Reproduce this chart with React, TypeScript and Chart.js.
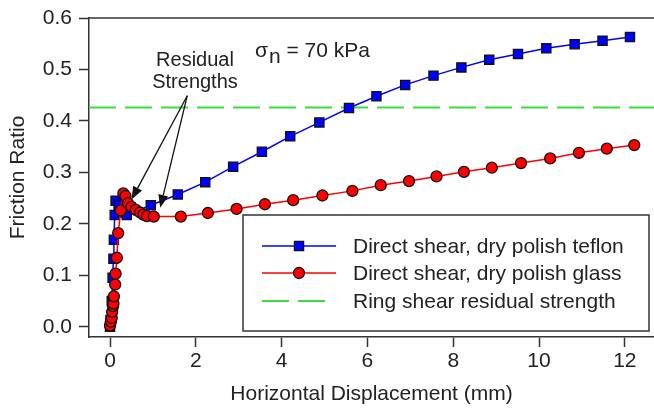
import React, { useEffect, useRef } from "react";
import { Chart, registerables } from "chart.js";

Chart.register(...registerables);

// ---- data ----
const teflonX = [0.0, 0.01, 0.04, 0.06, 0.08, 0.09, 0.11, 0.13, 0.2, 0.3, 0.39, 0.95, 1.58, 2.22, 2.87, 3.54, 4.2, 4.88, 5.57, 6.21, 6.88, 7.54, 8.19, 8.84, 9.51, 10.17, 10.83, 11.48, 12.12];
const teflonY = [0.0, 0.013, 0.05, 0.095, 0.132, 0.169, 0.217, 0.245, 0.237, 0.222, 0.217, 0.236, 0.257, 0.281, 0.311, 0.34, 0.37, 0.397, 0.425, 0.448, 0.47, 0.488, 0.504, 0.519, 0.53, 0.541, 0.549, 0.556, 0.563];

const glassX = [0.0, 0.02, 0.04, 0.05, 0.07, 0.08, 0.09, 0.12, 0.13, 0.16, 0.19, 0.25, 0.31, 0.36, 0.42, 0.5, 0.6, 0.7, 0.78, 0.86, 1.02, 1.65, 2.28, 2.95, 3.61, 4.27, 4.95, 5.65, 6.31, 6.97, 7.61, 8.25, 8.9, 9.58, 10.26, 10.93, 11.58, 12.22];
const glassY = [0.002, 0.01, 0.017, 0.029, 0.04, 0.045, 0.059, 0.082, 0.103, 0.134, 0.182, 0.226, 0.259, 0.254, 0.24, 0.233, 0.227, 0.222, 0.218, 0.215, 0.214, 0.214, 0.221, 0.229, 0.238, 0.246, 0.255, 0.264, 0.275, 0.283, 0.292, 0.301, 0.309, 0.318, 0.327, 0.338, 0.346, 0.353];

const ringShearResidual = 0.426;

const xTicks = [0, 2, 4, 6, 8, 10, 12];
const yTicks = [0, 0.1, 0.2, 0.3, 0.4, 0.5, 0.6];
const xMin = -0.49;
const xMax = 12.68;
const yMin = -0.02;
const yMax = 0.6;

const labels = [
  "Direct shear, dry polish teflon",
  "Direct shear, dry polish glass",
  "Ring shear residual strength",
];

// annotation anchors (data coords)
const arrowStart = { x: 1.8, y: 0.449 };
const arrowTips = [
  { x: 0.5, y: 0.247 },
  { x: 1.17, y: 0.231 },
];

const FONT = "'Liberation Sans', Arial, Helvetica, sans-serif";
const TEXT = "#222";
const AXIS = "#333";
const BLUE = "#0000ff";
const RED = "#ff0000";
const GREEN = "#3ddc3d";

const annotPlugin = {
  id: "annot",
  afterDraw(chart: any) {
    const ctx = chart.ctx as CanvasRenderingContext2D;
    const xs = chart.scales.x;
    const ys = chart.scales.y;
    const ca = chart.chartArea;
    ctx.save();
    // top frame
    ctx.strokeStyle = AXIS;
    ctx.lineWidth = 1.5;
    ctx.beginPath();
    ctx.moveTo(ca.left, ca.top);
    ctx.lineTo(ca.right, ca.top);
    ctx.stroke();

    // sigma label
    ctx.fillStyle = TEXT;
    ctx.textBaseline = "alphabetic";
    ctx.textAlign = "left";
    ctx.font = `21px ${FONT}`;
    let x0 = 255;
    const base = 57;
    ctx.fillText("σ", x0, base);
    x0 += ctx.measureText("σ").width + 1;
    ctx.fillText("n", x0, base + 6);
    x0 += ctx.measureText("n").width;
    ctx.fillText(" = 70 kPa", x0, base);

    // residual strengths
    ctx.font = `20px ${FONT}`;
    ctx.textAlign = "center";
    ctx.fillText("Residual", 195, 66);
    ctx.fillText("Strengths", 195, 88);

    // arrows
    const sx = xs.getPixelForValue(arrowStart.x);
    const sy = ys.getPixelForValue(arrowStart.y);
    ctx.strokeStyle = "#111";
    ctx.fillStyle = "#111";
    ctx.lineWidth = 1.3;
    for (const t of arrowTips) {
      const tx = xs.getPixelForValue(t.x);
      const ty = ys.getPixelForValue(t.y);
      const ang = Math.atan2(ty - sy, tx - sx);
      const hl = 13;
      const hw = 5;
      const bx = tx - hl * Math.cos(ang);
      const by = ty - hl * Math.sin(ang);
      ctx.beginPath();
      ctx.moveTo(sx, sy);
      ctx.lineTo(bx, by);
      ctx.stroke();
      ctx.beginPath();
      ctx.moveTo(tx, ty);
      ctx.lineTo(bx + hw * Math.sin(ang), by - hw * Math.cos(ang));
      ctx.lineTo(bx - hw * Math.sin(ang), by + hw * Math.cos(ang));
      ctx.closePath();
      ctx.fill();
    }

    // legend
    const lx = 243, ly = 215, lw = 406, lh = 116;
    ctx.fillStyle = "#fff";
    ctx.fillRect(lx, ly, lw, lh);
    ctx.strokeStyle = AXIS;
    ctx.lineWidth = 1.5;
    ctx.strokeRect(lx, ly, lw, lh);
    const rows = [246, 273, 301];
    const ds = chart.data.datasets;
    const order = [1, 0, 2];
    ctx.font = `21px ${FONT}`;
    ctx.textAlign = "left";
    ctx.textBaseline = "middle";
    order.forEach((di: number, i: number) => {
      const d = ds[di];
      const y = rows[i];
      ctx.save();
      ctx.strokeStyle = d.borderColor;
      ctx.lineWidth = d.borderWidth;
      ctx.setLineDash(d.borderDash || []);
      ctx.beginPath();
      ctx.moveTo(262, y);
      ctx.lineTo(d.borderDash ? 326 : 336, y);
      ctx.stroke();
      ctx.restore();
      if (d.pointRadius > 0) {
        ctx.fillStyle = d.pointBackgroundColor;
        ctx.strokeStyle = d.pointBorderColor;
        ctx.lineWidth = d.pointBorderWidth;
        ctx.beginPath();
        if (d.pointStyle === "rect") {
          const s = Math.SQRT1_2 * d.pointRadius;
          ctx.rect(299 - s, y - s, 2 * s, 2 * s);
        } else {
          ctx.arc(299, y, d.pointRadius, 0, Math.PI * 2);
        }
        ctx.fill();
        ctx.stroke();
      }
      ctx.fillStyle = TEXT;
      ctx.fillText(d.label, 353, y + 1);
    });
    ctx.restore();
  },
};

export default function App() {
  const ref = useRef<HTMLCanvasElement | null>(null);
  useEffect(() => {
    document.body.style.margin = "0";
    if (!ref.current) return;
    const chart = new Chart(ref.current, {
      type: "line",
      data: {
        datasets: [
          {
            label: labels[1],
            data: glassX.map((x, i) => ({ x, y: glassY[i] })),
            borderColor: RED,
            borderWidth: 1.5,
            pointStyle: "circle",
            pointRadius: 5.5,
            pointBackgroundColor: RED,
            pointBorderColor: "#111",
            pointBorderWidth: 1.3,
            order: 1,
          } as any,
          {
            label: labels[0],
            data: teflonX.map((x, i) => ({ x, y: teflonY[i] })),
            borderColor: BLUE,
            borderWidth: 1.5,
            pointStyle: "rect",
            pointRadius: 6.5,
            pointBackgroundColor: BLUE,
            pointBorderColor: "#111",
            pointBorderWidth: 1.3,
            order: 2,
          } as any,
          {
            label: labels[2],
            data: [
              { x: xMin, y: ringShearResidual },
              { x: xMax, y: ringShearResidual },
            ],
            borderColor: GREEN,
            borderWidth: 2,
            borderDash: [27, 9],
            pointRadius: 0,
            order: 3,
          } as any,
        ],
      },
      options: {
        responsive: false,
        animation: false,
        layout: { autoPadding: false, padding: { top: 18, right: 0, left: 0, bottom: 0 } },
        plugins: { legend: { display: false }, tooltip: { enabled: false } },
        scales: {
          x: {
            type: "linear",
            min: xMin,
            max: xMax,
            afterBuildTicks: (s: any) => {
              s.ticks = xTicks.map((v) => ({ value: v }));
            },
            afterFit: (s: any) => {
              s.height = 71;
              s.paddingLeft = 0;
              s.paddingRight = 0;
            },
            ticks: {
              font: { size: 21, family: FONT },
              color: TEXT,
              padding: 2,
              maxRotation: 0,
              callback: (v: any) => String(v),
            },
            grid: { drawOnChartArea: false, tickLength: 10, tickColor: AXIS, tickWidth: 1.5 },
            border: { color: AXIS, width: 1.5 },
            title: {
              display: true,
              text: "Horizontal Displacement (mm)",
              font: { size: 21, family: FONT },
              color: TEXT,
              padding: { top: 0, bottom: 1 },
            },
          },
          y: {
            type: "linear",
            min: yMin,
            max: yMax,
            afterBuildTicks: (s: any) => {
              s.ticks = yTicks.map((v) => ({ value: v }));
            },
            afterFit: (s: any) => {
              s.width = 89;
              s.paddingTop = 0;
              s.paddingBottom = 0;
            },
            ticks: {
              font: { size: 21, family: FONT },
              color: TEXT,
              padding: 7,
              callback: (v: any) => Number(v).toFixed(1),
            },
            grid: { drawOnChartArea: false, tickLength: 10, tickColor: AXIS, tickWidth: 1.5 },
            border: { color: AXIS, width: 1.5 },
            title: {
              display: true,
              text: "Friction Ratio",
              font: { size: 21, family: FONT },
              color: TEXT,
              padding: { top: 6, bottom: 0 },
            },
          },
        },
      },
      plugins: [annotPlugin],
    });
    return () => chart.destroy();
  }, []);
  return <canvas ref={ref} width={654} height={408} style={{ display: "block" }} />;
}
